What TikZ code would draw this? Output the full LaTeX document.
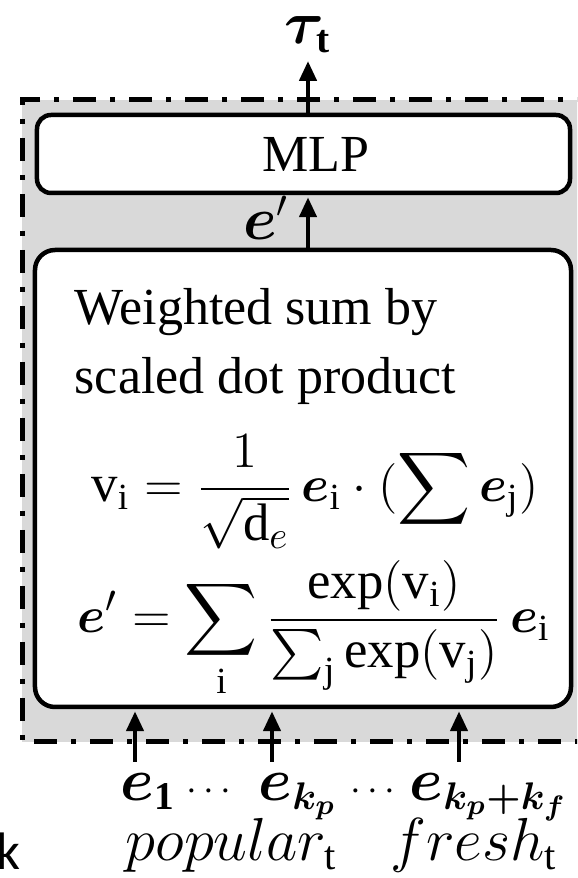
\documentclass[tikz,border=0pt]{standalone}
\usepackage{fontspec,amsmath,bm}
\setmainfont{Liberation Serif}
\newfontfamily\sanslbl{Carlito}
\usetikzlibrary{arrows.meta,positioning}
\definecolor{ink}{HTML}{000000}
\definecolor{panel}{HTML}{D9D9D9}
\newcommand{\lbl}{\fontsize{14.8}{17.8}\selectfont}
\newcommand{\lblbig}{\fontsize{16}{19}\selectfont}
\newcommand{\frm}{\fontsize{15}{18}\selectfont}
\newcommand{\be}{\boldsymbol{e}}

\begin{document}
\begin{tikzpicture}[x=1mm,y=1mm,font=\lbl,
  blockbox/.style={draw=ink,fill=white,line width=0.45mm,rounded corners=1.4mm,inner sep=0},
  flow/.style={ink,line width=0.45mm,shorten >=0.2mm,-{Triangle[length=2.0mm,width=1.7mm]}},
  dotrow/.style={anchor=base,inner sep=0,font=\fontsize{11}{13}\selectfont}]
\clip (0,0) rectangle (57.7,87.8);
% shaded module frame, runs past the right edge
\fill[panel] (2.2,13.6) rectangle (60,77.8);
\draw[ink,line width=0.5mm,dash pattern=on 2.3mm off 1.4mm on 0.5mm off 1.4mm] (60,77.8) -- (2.2,77.8) -- (2.2,13.6) -- (60,13.6);
\node[blockbox,minimum width=53.3mm,minimum height=7.8mm] (mlp) at (30.35,72.4) {\hspace*{2.4mm}MLP};
\node[blockbox,rounded corners=2mm,minimum width=53.6mm,minimum height=45.7mm] (attn) at (30.3,39.95) {};
\node[anchor=base west,inner sep=0] (head1) at (7.4,55.3) {Weighted sum by};
\node[anchor=base west,inner sep=0] (head2) at (7.4,48.4) {scaled dot product};
\node[anchor=base,inner sep=0,font=\frm] (vform) at (31.5,37.6) {$\displaystyle \mathrm{v}_{\mathrm{i}} = \frac{1}{\sqrt{\mathrm{d}_{e}}}\,\be_{\mathrm{i}}\cdot(\sum \be_{\mathrm{j}})$};
\node[anchor=base,inner sep=0,font=\frm] (eform) at (31.4,24.5) {$\displaystyle \be' = \sum_{\mathrm{i}}\frac{\exp(\mathrm{v}_{\mathrm{i}})}{\sum_{\mathrm{j}}\exp(\mathrm{v}_{\mathrm{j}})}\,\be_{\mathrm{i}}$};
% output
\coordinate (spine) at (30.8,65);
\coordinate (outtip) at (30.8,81.9);
\node[above=0.5mm of outtip,inner sep=0,font=\lblbig] (tau) {$\boldsymbol{\tau}_{\mathbf{t}}$};
\draw[flow] (outtip |- mlp.north) -- (outtip);
\draw[flow] (spine |- attn.north) -- (spine |- mlp.south);
\node[anchor=base east,inner sep=0,font=\lblbig] (eprime) at (29.0,63.8) {$\be'$};
% inputs
\coordinate (in1) at (13.5,11.6);
\coordinate (in2) at (27.2,11.6);
\coordinate (in3) at (45.9,11.6);
\draw[flow] (in1) -- (in1 |- attn.south);
\draw[flow] (in2) -- (in2 |- attn.south);
\draw[flow] (in3) -- (in3 |- attn.south);
\node[anchor=base west,inner sep=0,font=\lblbig] (e1) at (12.0,7.8) {$\be_{\mathbf{1}}$};
\node[dotrow] (dots1) at (21.2,7.8) {$\cdots$};
\node[anchor=base west,inner sep=0,font=\lblbig] (ekp) at (25.8,7.8) {$\be_{\boldsymbol{k_p}}$};
\node[dotrow] (dots2) at (37.6,7.8) {$\cdots$};
\node[anchor=base west,inner sep=0,font=\lblbig] (ekf) at (40.9,7.8) {$\be_{\boldsymbol{k_p+k_f}}$};
\node[anchor=base west,inner sep=0,font=\fontsize{16.5}{20}\selectfont] (popular) at (12.5,1.8) {$popular_{\mathrm{t}}$};
\node[anchor=base west,inner sep=0,font=\fontsize{16.5}{20}\selectfont] (fresh) at (39.0,1.8) {$fresh_{\mathrm{t}}$};
\node[anchor=base east,inner sep=0,font=\sanslbl\fontsize{15}{18}\selectfont] (kcut) at (2.1,0.8) {k};
\end{tikzpicture}
\end{document}
